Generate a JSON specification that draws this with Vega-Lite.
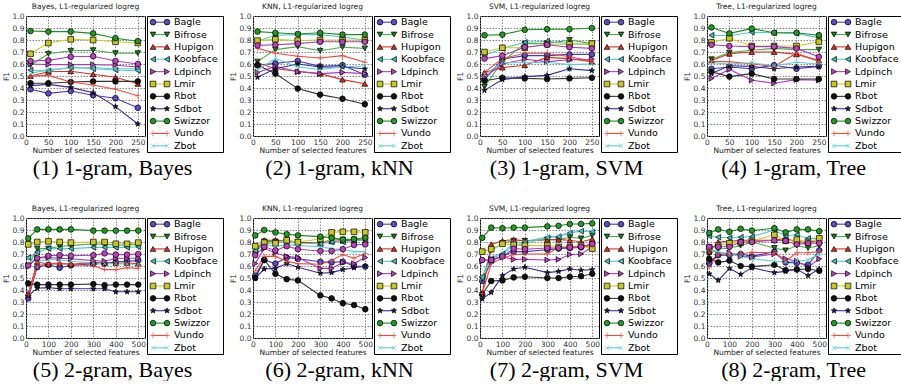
{
"$schema":"https://vega.github.io/schema/vega-lite/v6.json",
"padding":{"left":1,"top":2,"right":0,"bottom":0},
"config":{
 "view":{"stroke":"#000","strokeWidth":1},
 "font":"DejaVu Sans",
 "title":{"font":"DejaVu Sans","fontSize":7.5,"fontWeight":"normal","color":"#222","offset":2},
 "axis":{"labelFont":"DejaVu Sans","labelFontSize":7.5,"labelColor":"#333","titleFont":"DejaVu Sans","titleFontSize":7.5,"titleFontWeight":"normal","titleColor":"#222","gridColor":"#777","gridDash":[1.5,1.5],"gridOpacity":0.9,"domain":false,"ticks":false,"labelPadding":2,"labelFlush":false,"titlePadding":1}
},
"datasets":{
"leg":[{"s":"Bagle"},{"s":"Bifrose"},{"s":"Hupigon"},{"s":"Koobface"},{"s":"Ldpinch"},{"s":"Lmir"},{"s":"Rbot"},{"s":"Sdbot"},{"s":"Swizzor"},{"s":"Vundo"},{"s":"Zbot"}],
"f":[
{"p":1,"s":"Bagle","x":10,"y":0.39},{"p":1,"s":"Bagle","x":50,"y":0.355},{"p":1,"s":"Bagle","x":100,"y":0.375},{"p":1,"s":"Bagle","x":150,"y":0.34},{"p":1,"s":"Bagle","x":200,"y":0.315},{"p":1,"s":"Bagle","x":250,"y":0.235},
{"p":1,"s":"Bifrose","x":10,"y":0.59},{"p":1,"s":"Bifrose","x":50,"y":0.685},{"p":1,"s":"Bifrose","x":100,"y":0.71},{"p":1,"s":"Bifrose","x":150,"y":0.715},{"p":1,"s":"Bifrose","x":200,"y":0.69},{"p":1,"s":"Bifrose","x":250,"y":0.69},
{"p":1,"s":"Hupigon","x":10,"y":0.5},{"p":1,"s":"Hupigon","x":50,"y":0.535},{"p":1,"s":"Hupigon","x":100,"y":0.54},{"p":1,"s":"Hupigon","x":150,"y":0.515},{"p":1,"s":"Hupigon","x":200,"y":0.49},{"p":1,"s":"Hupigon","x":250,"y":0.435},
{"p":1,"s":"Koobface","x":10,"y":0.55},{"p":1,"s":"Koobface","x":50,"y":0.54},{"p":1,"s":"Koobface","x":100,"y":0.575},{"p":1,"s":"Koobface","x":150,"y":0.56},{"p":1,"s":"Koobface","x":200,"y":0.55},{"p":1,"s":"Koobface","x":250,"y":0.545},
{"p":1,"s":"Ldpinch","x":10,"y":0.6},{"p":1,"s":"Ldpinch","x":50,"y":0.595},{"p":1,"s":"Ldpinch","x":100,"y":0.595},{"p":1,"s":"Ldpinch","x":150,"y":0.595},{"p":1,"s":"Ldpinch","x":200,"y":0.59},{"p":1,"s":"Ldpinch","x":250,"y":0.575},
{"p":1,"s":"Lmir","x":10,"y":0.685},{"p":1,"s":"Lmir","x":50,"y":0.775},{"p":1,"s":"Lmir","x":100,"y":0.805},{"p":1,"s":"Lmir","x":150,"y":0.8},{"p":1,"s":"Lmir","x":200,"y":0.785},{"p":1,"s":"Lmir","x":250,"y":0.775},
{"p":1,"s":"Rbot","x":10,"y":0.44},{"p":1,"s":"Rbot","x":50,"y":0.44},{"p":1,"s":"Rbot","x":100,"y":0.45},{"p":1,"s":"Rbot","x":150,"y":0.455},{"p":1,"s":"Rbot","x":200,"y":0.455},{"p":1,"s":"Rbot","x":250,"y":0.455},
{"p":1,"s":"Sdbot","x":10,"y":0.42},{"p":1,"s":"Sdbot","x":50,"y":0.43},{"p":1,"s":"Sdbot","x":100,"y":0.405},{"p":1,"s":"Sdbot","x":150,"y":0.36},{"p":1,"s":"Sdbot","x":200,"y":0.245},{"p":1,"s":"Sdbot","x":250,"y":0.1},
{"p":1,"s":"Swizzor","x":10,"y":0.875},{"p":1,"s":"Swizzor","x":50,"y":0.87},{"p":1,"s":"Swizzor","x":100,"y":0.87},{"p":1,"s":"Swizzor","x":150,"y":0.855},{"p":1,"s":"Swizzor","x":200,"y":0.815},{"p":1,"s":"Swizzor","x":250,"y":0.79},
{"p":1,"s":"Vundo","x":10,"y":0.5},{"p":1,"s":"Vundo","x":50,"y":0.505},{"p":1,"s":"Vundo","x":100,"y":0.45},{"p":1,"s":"Vundo","x":150,"y":0.425},{"p":1,"s":"Vundo","x":200,"y":0.39},{"p":1,"s":"Vundo","x":250,"y":0.335},
{"p":1,"s":"Zbot","x":10,"y":0.52},{"p":1,"s":"Zbot","x":50,"y":0.555},{"p":1,"s":"Zbot","x":100,"y":0.565},{"p":1,"s":"Zbot","x":150,"y":0.57},{"p":1,"s":"Zbot","x":200,"y":0.56},{"p":1,"s":"Zbot","x":250,"y":0.56},
{"p":1,"s":"Other","x":10,"y":0.625},{"p":1,"s":"Other","x":50,"y":0.63},{"p":1,"s":"Other","x":100,"y":0.66},{"p":1,"s":"Other","x":150,"y":0.665},{"p":1,"s":"Other","x":200,"y":0.625},{"p":1,"s":"Other","x":250,"y":0.6},
{"p":2,"s":"Bagle","x":10,"y":0.59},{"p":2,"s":"Bagle","x":50,"y":0.605},{"p":2,"s":"Bagle","x":100,"y":0.625},{"p":2,"s":"Bagle","x":150,"y":0.58},{"p":2,"s":"Bagle","x":200,"y":0.59},{"p":2,"s":"Bagle","x":250,"y":0.51},
{"p":2,"s":"Bifrose","x":10,"y":0.62},{"p":2,"s":"Bifrose","x":50,"y":0.72},{"p":2,"s":"Bifrose","x":100,"y":0.745},{"p":2,"s":"Bifrose","x":150,"y":0.71},{"p":2,"s":"Bifrose","x":200,"y":0.74},{"p":2,"s":"Bifrose","x":250,"y":0.73},
{"p":2,"s":"Hupigon","x":10,"y":0.61},{"p":2,"s":"Hupigon","x":50,"y":0.56},{"p":2,"s":"Hupigon","x":100,"y":0.54},{"p":2,"s":"Hupigon","x":150,"y":0.52},{"p":2,"s":"Hupigon","x":200,"y":0.47},{"p":2,"s":"Hupigon","x":250,"y":0.435},
{"p":2,"s":"Koobface","x":10,"y":0.79},{"p":2,"s":"Koobface","x":50,"y":0.84},{"p":2,"s":"Koobface","x":100,"y":0.845},{"p":2,"s":"Koobface","x":150,"y":0.845},{"p":2,"s":"Koobface","x":200,"y":0.825},{"p":2,"s":"Koobface","x":250,"y":0.8},
{"p":2,"s":"Ldpinch","x":10,"y":0.53},{"p":2,"s":"Ldpinch","x":50,"y":0.58},{"p":2,"s":"Ldpinch","x":100,"y":0.535},{"p":2,"s":"Ldpinch","x":150,"y":0.52},{"p":2,"s":"Ldpinch","x":200,"y":0.53},{"p":2,"s":"Ldpinch","x":250,"y":0.52},
{"p":2,"s":"Lmir","x":10,"y":0.795},{"p":2,"s":"Lmir","x":50,"y":0.805},{"p":2,"s":"Lmir","x":100,"y":0.795},{"p":2,"s":"Lmir","x":150,"y":0.8},{"p":2,"s":"Lmir","x":200,"y":0.8},{"p":2,"s":"Lmir","x":250,"y":0.8},
{"p":2,"s":"Rbot","x":10,"y":0.59},{"p":2,"s":"Rbot","x":50,"y":0.52},{"p":2,"s":"Rbot","x":100,"y":0.395},{"p":2,"s":"Rbot","x":150,"y":0.345},{"p":2,"s":"Rbot","x":200,"y":0.31},{"p":2,"s":"Rbot","x":250,"y":0.265},
{"p":2,"s":"Sdbot","x":10,"y":0.49},{"p":2,"s":"Sdbot","x":50,"y":0.56},{"p":2,"s":"Sdbot","x":100,"y":0.6},{"p":2,"s":"Sdbot","x":150,"y":0.575},{"p":2,"s":"Sdbot","x":200,"y":0.575},{"p":2,"s":"Sdbot","x":250,"y":0.56},
{"p":2,"s":"Swizzor","x":10,"y":0.87},{"p":2,"s":"Swizzor","x":50,"y":0.86},{"p":2,"s":"Swizzor","x":100,"y":0.85},{"p":2,"s":"Swizzor","x":150,"y":0.86},{"p":2,"s":"Swizzor","x":200,"y":0.845},{"p":2,"s":"Swizzor","x":250,"y":0.845},
{"p":2,"s":"Vundo","x":10,"y":0.73},{"p":2,"s":"Vundo","x":50,"y":0.69},{"p":2,"s":"Vundo","x":100,"y":0.665},{"p":2,"s":"Vundo","x":150,"y":0.65},{"p":2,"s":"Vundo","x":200,"y":0.67},{"p":2,"s":"Vundo","x":250,"y":0.615},
{"p":2,"s":"Zbot","x":10,"y":0.55},{"p":2,"s":"Zbot","x":50,"y":0.645},{"p":2,"s":"Zbot","x":100,"y":0.575},{"p":2,"s":"Zbot","x":150,"y":0.555},{"p":2,"s":"Zbot","x":200,"y":0.575},{"p":2,"s":"Zbot","x":250,"y":0.585},
{"p":2,"s":"Other","x":10,"y":0.755},{"p":2,"s":"Other","x":50,"y":0.76},{"p":2,"s":"Other","x":100,"y":0.77},{"p":2,"s":"Other","x":150,"y":0.785},{"p":2,"s":"Other","x":200,"y":0.785},{"p":2,"s":"Other","x":250,"y":0.785},
{"p":3,"s":"Bagle","x":10,"y":0.47},{"p":3,"s":"Bagle","x":50,"y":0.64},{"p":3,"s":"Bagle","x":100,"y":0.67},{"p":3,"s":"Bagle","x":150,"y":0.67},{"p":3,"s":"Bagle","x":200,"y":0.68},{"p":3,"s":"Bagle","x":250,"y":0.68},
{"p":3,"s":"Bifrose","x":10,"y":0.41},{"p":3,"s":"Bifrose","x":50,"y":0.62},{"p":3,"s":"Bifrose","x":100,"y":0.77},{"p":3,"s":"Bifrose","x":150,"y":0.77},{"p":3,"s":"Bifrose","x":200,"y":0.8},{"p":3,"s":"Bifrose","x":250,"y":0.77},
{"p":3,"s":"Hupigon","x":10,"y":0.53},{"p":3,"s":"Hupigon","x":50,"y":0.57},{"p":3,"s":"Hupigon","x":100,"y":0.59},{"p":3,"s":"Hupigon","x":150,"y":0.655},{"p":3,"s":"Hupigon","x":200,"y":0.645},{"p":3,"s":"Hupigon","x":250,"y":0.62},
{"p":3,"s":"Koobface","x":10,"y":0.67},{"p":3,"s":"Koobface","x":50,"y":0.73},{"p":3,"s":"Koobface","x":100,"y":0.78},{"p":3,"s":"Koobface","x":150,"y":0.79},{"p":3,"s":"Koobface","x":200,"y":0.77},{"p":3,"s":"Koobface","x":250,"y":0.76},
{"p":3,"s":"Ldpinch","x":10,"y":0.49},{"p":3,"s":"Ldpinch","x":50,"y":0.6},{"p":3,"s":"Ldpinch","x":100,"y":0.64},{"p":3,"s":"Ldpinch","x":150,"y":0.62},{"p":3,"s":"Ldpinch","x":200,"y":0.635},{"p":3,"s":"Ldpinch","x":250,"y":0.64},
{"p":3,"s":"Lmir","x":10,"y":0.7},{"p":3,"s":"Lmir","x":50,"y":0.735},{"p":3,"s":"Lmir","x":100,"y":0.735},{"p":3,"s":"Lmir","x":150,"y":0.765},{"p":3,"s":"Lmir","x":200,"y":0.765},{"p":3,"s":"Lmir","x":250,"y":0.77},
{"p":3,"s":"Rbot","x":10,"y":0.46},{"p":3,"s":"Rbot","x":50,"y":0.485},{"p":3,"s":"Rbot","x":100,"y":0.48},{"p":3,"s":"Rbot","x":150,"y":0.475},{"p":3,"s":"Rbot","x":200,"y":0.48},{"p":3,"s":"Rbot","x":250,"y":0.485},
{"p":3,"s":"Sdbot","x":10,"y":0.38},{"p":3,"s":"Sdbot","x":50,"y":0.47},{"p":3,"s":"Sdbot","x":100,"y":0.495},{"p":3,"s":"Sdbot","x":150,"y":0.505},{"p":3,"s":"Sdbot","x":200,"y":0.56},{"p":3,"s":"Sdbot","x":250,"y":0.545},
{"p":3,"s":"Swizzor","x":10,"y":0.84},{"p":3,"s":"Swizzor","x":50,"y":0.845},{"p":3,"s":"Swizzor","x":100,"y":0.885},{"p":3,"s":"Swizzor","x":150,"y":0.89},{"p":3,"s":"Swizzor","x":200,"y":0.89},{"p":3,"s":"Swizzor","x":250,"y":0.9},
{"p":3,"s":"Vundo","x":10,"y":0.53},{"p":3,"s":"Vundo","x":50,"y":0.645},{"p":3,"s":"Vundo","x":100,"y":0.69},{"p":3,"s":"Vundo","x":150,"y":0.69},{"p":3,"s":"Vundo","x":200,"y":0.66},{"p":3,"s":"Vundo","x":250,"y":0.625},
{"p":3,"s":"Zbot","x":10,"y":0.51},{"p":3,"s":"Zbot","x":50,"y":0.61},{"p":3,"s":"Zbot","x":100,"y":0.61},{"p":3,"s":"Zbot","x":150,"y":0.615},{"p":3,"s":"Zbot","x":200,"y":0.595},{"p":3,"s":"Zbot","x":250,"y":0.6},
{"p":3,"s":"Other","x":10,"y":0.645},{"p":3,"s":"Other","x":50,"y":0.67},{"p":3,"s":"Other","x":100,"y":0.74},{"p":3,"s":"Other","x":150,"y":0.76},{"p":3,"s":"Other","x":200,"y":0.74},{"p":3,"s":"Other","x":250,"y":0.73},
{"p":4,"s":"Bagle","x":10,"y":0.56},{"p":4,"s":"Bagle","x":50,"y":0.575},{"p":4,"s":"Bagle","x":100,"y":0.56},{"p":4,"s":"Bagle","x":150,"y":0.59},{"p":4,"s":"Bagle","x":200,"y":0.56},{"p":4,"s":"Bagle","x":250,"y":0.58},
{"p":4,"s":"Bifrose","x":10,"y":0.64},{"p":4,"s":"Bifrose","x":50,"y":0.695},{"p":4,"s":"Bifrose","x":100,"y":0.715},{"p":4,"s":"Bifrose","x":150,"y":0.73},{"p":4,"s":"Bifrose","x":200,"y":0.72},{"p":4,"s":"Bifrose","x":250,"y":0.72},
{"p":4,"s":"Hupigon","x":10,"y":0.63},{"p":4,"s":"Hupigon","x":50,"y":0.685},{"p":4,"s":"Hupigon","x":100,"y":0.7},{"p":4,"s":"Hupigon","x":150,"y":0.7},{"p":4,"s":"Hupigon","x":200,"y":0.68},{"p":4,"s":"Hupigon","x":250,"y":0.63},
{"p":4,"s":"Koobface","x":10,"y":0.84},{"p":4,"s":"Koobface","x":50,"y":0.835},{"p":4,"s":"Koobface","x":100,"y":0.865},{"p":4,"s":"Koobface","x":150,"y":0.86},{"p":4,"s":"Koobface","x":200,"y":0.855},{"p":4,"s":"Koobface","x":250,"y":0.82},
{"p":4,"s":"Ldpinch","x":10,"y":0.48},{"p":4,"s":"Ldpinch","x":50,"y":0.555},{"p":4,"s":"Ldpinch","x":100,"y":0.465},{"p":4,"s":"Ldpinch","x":150,"y":0.44},{"p":4,"s":"Ldpinch","x":200,"y":0.47},{"p":4,"s":"Ldpinch","x":250,"y":0.465},
{"p":4,"s":"Lmir","x":10,"y":0.78},{"p":4,"s":"Lmir","x":50,"y":0.815},{"p":4,"s":"Lmir","x":100,"y":0.75},{"p":4,"s":"Lmir","x":150,"y":0.75},{"p":4,"s":"Lmir","x":200,"y":0.75},{"p":4,"s":"Lmir","x":250,"y":0.785},
{"p":4,"s":"Rbot","x":10,"y":0.535},{"p":4,"s":"Rbot","x":50,"y":0.495},{"p":4,"s":"Rbot","x":100,"y":0.52},{"p":4,"s":"Rbot","x":150,"y":0.475},{"p":4,"s":"Rbot","x":200,"y":0.475},{"p":4,"s":"Rbot","x":250,"y":0.475},
{"p":4,"s":"Sdbot","x":10,"y":0.52},{"p":4,"s":"Sdbot","x":50,"y":0.585},{"p":4,"s":"Sdbot","x":100,"y":0.58},{"p":4,"s":"Sdbot","x":150,"y":0.56},{"p":4,"s":"Sdbot","x":200,"y":0.575},{"p":4,"s":"Sdbot","x":250,"y":0.58},
{"p":4,"s":"Swizzor","x":10,"y":0.905},{"p":4,"s":"Swizzor","x":50,"y":0.855},{"p":4,"s":"Swizzor","x":100,"y":0.895},{"p":4,"s":"Swizzor","x":150,"y":0.86},{"p":4,"s":"Swizzor","x":200,"y":0.86},{"p":4,"s":"Swizzor","x":250,"y":0.84},
{"p":4,"s":"Vundo","x":10,"y":0.62},{"p":4,"s":"Vundo","x":50,"y":0.62},{"p":4,"s":"Vundo","x":100,"y":0.6},{"p":4,"s":"Vundo","x":150,"y":0.58},{"p":4,"s":"Vundo","x":200,"y":0.69},{"p":4,"s":"Vundo","x":250,"y":0.62},
{"p":4,"s":"Zbot","x":10,"y":0.61},{"p":4,"s":"Zbot","x":50,"y":0.6},{"p":4,"s":"Zbot","x":100,"y":0.61},{"p":4,"s":"Zbot","x":150,"y":0.585},{"p":4,"s":"Zbot","x":200,"y":0.615},{"p":4,"s":"Zbot","x":250,"y":0.6},
{"p":4,"s":"Other","x":10,"y":0.76},{"p":4,"s":"Other","x":50,"y":0.75},{"p":4,"s":"Other","x":100,"y":0.745},{"p":4,"s":"Other","x":150,"y":0.745},{"p":4,"s":"Other","x":200,"y":0.73},{"p":4,"s":"Other","x":250,"y":0.66},
{"p":5,"s":"Bagle","x":10,"y":0.33},{"p":5,"s":"Bagle","x":50,"y":0.59},{"p":5,"s":"Bagle","x":100,"y":0.61},{"p":5,"s":"Bagle","x":150,"y":0.585},{"p":5,"s":"Bagle","x":200,"y":0.605},{"p":5,"s":"Bagle","x":300,"y":0.62},{"p":5,"s":"Bagle","x":350,"y":0.62},{"p":5,"s":"Bagle","x":400,"y":0.635},{"p":5,"s":"Bagle","x":450,"y":0.64},{"p":5,"s":"Bagle","x":500,"y":0.645},
{"p":5,"s":"Bifrose","x":10,"y":0.6},{"p":5,"s":"Bifrose","x":50,"y":0.745},{"p":5,"s":"Bifrose","x":100,"y":0.745},{"p":5,"s":"Bifrose","x":150,"y":0.765},{"p":5,"s":"Bifrose","x":200,"y":0.77},{"p":5,"s":"Bifrose","x":300,"y":0.785},{"p":5,"s":"Bifrose","x":350,"y":0.78},{"p":5,"s":"Bifrose","x":400,"y":0.775},{"p":5,"s":"Bifrose","x":450,"y":0.775},{"p":5,"s":"Bifrose","x":500,"y":0.78},
{"p":5,"s":"Hupigon","x":10,"y":0.37},{"p":5,"s":"Hupigon","x":50,"y":0.635},{"p":5,"s":"Hupigon","x":100,"y":0.615},{"p":5,"s":"Hupigon","x":150,"y":0.62},{"p":5,"s":"Hupigon","x":200,"y":0.615},{"p":5,"s":"Hupigon","x":300,"y":0.63},{"p":5,"s":"Hupigon","x":350,"y":0.625},{"p":5,"s":"Hupigon","x":400,"y":0.625},{"p":5,"s":"Hupigon","x":450,"y":0.625},{"p":5,"s":"Hupigon","x":500,"y":0.62},
{"p":5,"s":"Koobface","x":10,"y":0.67},{"p":5,"s":"Koobface","x":50,"y":0.715},{"p":5,"s":"Koobface","x":100,"y":0.745},{"p":5,"s":"Koobface","x":150,"y":0.745},{"p":5,"s":"Koobface","x":200,"y":0.745},{"p":5,"s":"Koobface","x":300,"y":0.755},{"p":5,"s":"Koobface","x":350,"y":0.755},{"p":5,"s":"Koobface","x":400,"y":0.755},{"p":5,"s":"Koobface","x":450,"y":0.755},{"p":5,"s":"Koobface","x":500,"y":0.76},
{"p":5,"s":"Ldpinch","x":10,"y":0.6},{"p":5,"s":"Ldpinch","x":50,"y":0.67},{"p":5,"s":"Ldpinch","x":100,"y":0.67},{"p":5,"s":"Ldpinch","x":150,"y":0.665},{"p":5,"s":"Ldpinch","x":200,"y":0.66},{"p":5,"s":"Ldpinch","x":300,"y":0.645},{"p":5,"s":"Ldpinch","x":350,"y":0.64},{"p":5,"s":"Ldpinch","x":400,"y":0.665},{"p":5,"s":"Ldpinch","x":450,"y":0.665},{"p":5,"s":"Ldpinch","x":500,"y":0.665},
{"p":5,"s":"Lmir","x":10,"y":0.78},{"p":5,"s":"Lmir","x":50,"y":0.8},{"p":5,"s":"Lmir","x":100,"y":0.805},{"p":5,"s":"Lmir","x":150,"y":0.8},{"p":5,"s":"Lmir","x":200,"y":0.795},{"p":5,"s":"Lmir","x":300,"y":0.8},{"p":5,"s":"Lmir","x":350,"y":0.8},{"p":5,"s":"Lmir","x":400,"y":0.785},{"p":5,"s":"Lmir","x":450,"y":0.785},{"p":5,"s":"Lmir","x":500,"y":0.795},
{"p":5,"s":"Rbot","x":10,"y":0.455},{"p":5,"s":"Rbot","x":50,"y":0.445},{"p":5,"s":"Rbot","x":100,"y":0.445},{"p":5,"s":"Rbot","x":150,"y":0.445},{"p":5,"s":"Rbot","x":200,"y":0.445},{"p":5,"s":"Rbot","x":300,"y":0.45},{"p":5,"s":"Rbot","x":350,"y":0.44},{"p":5,"s":"Rbot","x":400,"y":0.445},{"p":5,"s":"Rbot","x":450,"y":0.445},{"p":5,"s":"Rbot","x":500,"y":0.445},
{"p":5,"s":"Sdbot","x":10,"y":0.35},{"p":5,"s":"Sdbot","x":50,"y":0.415},{"p":5,"s":"Sdbot","x":100,"y":0.42},{"p":5,"s":"Sdbot","x":150,"y":0.41},{"p":5,"s":"Sdbot","x":200,"y":0.41},{"p":5,"s":"Sdbot","x":300,"y":0.41},{"p":5,"s":"Sdbot","x":350,"y":0.41},{"p":5,"s":"Sdbot","x":400,"y":0.385},{"p":5,"s":"Sdbot","x":450,"y":0.385},{"p":5,"s":"Sdbot","x":500,"y":0.385},
{"p":5,"s":"Swizzor","x":10,"y":0.83},{"p":5,"s":"Swizzor","x":50,"y":0.905},{"p":5,"s":"Swizzor","x":100,"y":0.905},{"p":5,"s":"Swizzor","x":150,"y":0.905},{"p":5,"s":"Swizzor","x":200,"y":0.905},{"p":5,"s":"Swizzor","x":300,"y":0.895},{"p":5,"s":"Swizzor","x":350,"y":0.895},{"p":5,"s":"Swizzor","x":400,"y":0.895},{"p":5,"s":"Swizzor","x":450,"y":0.895},{"p":5,"s":"Swizzor","x":500,"y":0.895},
{"p":5,"s":"Vundo","x":10,"y":0.36},{"p":5,"s":"Vundo","x":50,"y":0.6},{"p":5,"s":"Vundo","x":100,"y":0.62},{"p":5,"s":"Vundo","x":150,"y":0.625},{"p":5,"s":"Vundo","x":200,"y":0.615},{"p":5,"s":"Vundo","x":300,"y":0.6},{"p":5,"s":"Vundo","x":350,"y":0.57},{"p":5,"s":"Vundo","x":400,"y":0.57},{"p":5,"s":"Vundo","x":450,"y":0.585},{"p":5,"s":"Vundo","x":500,"y":0.58},
{"p":5,"s":"Zbot","x":10,"y":0.66},{"p":5,"s":"Zbot","x":50,"y":0.64},{"p":5,"s":"Zbot","x":100,"y":0.655},{"p":5,"s":"Zbot","x":150,"y":0.65},{"p":5,"s":"Zbot","x":200,"y":0.64},{"p":5,"s":"Zbot","x":300,"y":0.625},{"p":5,"s":"Zbot","x":350,"y":0.62},{"p":5,"s":"Zbot","x":400,"y":0.62},{"p":5,"s":"Zbot","x":450,"y":0.615},{"p":5,"s":"Zbot","x":500,"y":0.615},
{"p":5,"s":"Other","x":10,"y":0.605},{"p":5,"s":"Other","x":50,"y":0.665},{"p":5,"s":"Other","x":100,"y":0.685},{"p":5,"s":"Other","x":150,"y":0.69},{"p":5,"s":"Other","x":200,"y":0.685},{"p":5,"s":"Other","x":300,"y":0.69},{"p":5,"s":"Other","x":350,"y":0.705},{"p":5,"s":"Other","x":400,"y":0.695},{"p":5,"s":"Other","x":450,"y":0.695},{"p":5,"s":"Other","x":500,"y":0.7},
{"p":6,"s":"Bagle","x":10,"y":0.52},{"p":6,"s":"Bagle","x":50,"y":0.65},{"p":6,"s":"Bagle","x":100,"y":0.62},{"p":6,"s":"Bagle","x":150,"y":0.67},{"p":6,"s":"Bagle","x":200,"y":0.66},{"p":6,"s":"Bagle","x":300,"y":0.635},{"p":6,"s":"Bagle","x":350,"y":0.63},{"p":6,"s":"Bagle","x":400,"y":0.635},{"p":6,"s":"Bagle","x":450,"y":0.6},{"p":6,"s":"Bagle","x":500,"y":0.595},
{"p":6,"s":"Bifrose","x":10,"y":0.7},{"p":6,"s":"Bifrose","x":50,"y":0.805},{"p":6,"s":"Bifrose","x":100,"y":0.805},{"p":6,"s":"Bifrose","x":150,"y":0.8},{"p":6,"s":"Bifrose","x":200,"y":0.8},{"p":6,"s":"Bifrose","x":300,"y":0.785},{"p":6,"s":"Bifrose","x":350,"y":0.825},{"p":6,"s":"Bifrose","x":400,"y":0.82},{"p":6,"s":"Bifrose","x":450,"y":0.82},{"p":6,"s":"Bifrose","x":500,"y":0.825},
{"p":6,"s":"Hupigon","x":10,"y":0.72},{"p":6,"s":"Hupigon","x":50,"y":0.815},{"p":6,"s":"Hupigon","x":100,"y":0.815},{"p":6,"s":"Hupigon","x":150,"y":0.81},{"p":6,"s":"Hupigon","x":200,"y":0.8},{"p":6,"s":"Hupigon","x":300,"y":0.79},{"p":6,"s":"Hupigon","x":350,"y":0.805},{"p":6,"s":"Hupigon","x":400,"y":0.81},{"p":6,"s":"Hupigon","x":450,"y":0.815},{"p":6,"s":"Hupigon","x":500,"y":0.815},
{"p":6,"s":"Koobface","x":10,"y":0.73},{"p":6,"s":"Koobface","x":50,"y":0.78},{"p":6,"s":"Koobface","x":100,"y":0.8},{"p":6,"s":"Koobface","x":150,"y":0.815},{"p":6,"s":"Koobface","x":200,"y":0.79},{"p":6,"s":"Koobface","x":300,"y":0.785},{"p":6,"s":"Koobface","x":350,"y":0.8},{"p":6,"s":"Koobface","x":400,"y":0.8},{"p":6,"s":"Koobface","x":450,"y":0.81},{"p":6,"s":"Koobface","x":500,"y":0.815},
{"p":6,"s":"Ldpinch","x":10,"y":0.62},{"p":6,"s":"Ldpinch","x":50,"y":0.745},{"p":6,"s":"Ldpinch","x":100,"y":0.71},{"p":6,"s":"Ldpinch","x":150,"y":0.68},{"p":6,"s":"Ldpinch","x":200,"y":0.67},{"p":6,"s":"Ldpinch","x":300,"y":0.58},{"p":6,"s":"Ldpinch","x":350,"y":0.58},{"p":6,"s":"Ldpinch","x":400,"y":0.63},{"p":6,"s":"Ldpinch","x":450,"y":0.62},{"p":6,"s":"Ldpinch","x":500,"y":0.67},
{"p":6,"s":"Lmir","x":10,"y":0.765},{"p":6,"s":"Lmir","x":50,"y":0.795},{"p":6,"s":"Lmir","x":100,"y":0.79},{"p":6,"s":"Lmir","x":150,"y":0.815},{"p":6,"s":"Lmir","x":200,"y":0.8},{"p":6,"s":"Lmir","x":300,"y":0.825},{"p":6,"s":"Lmir","x":350,"y":0.88},{"p":6,"s":"Lmir","x":400,"y":0.885},{"p":6,"s":"Lmir","x":450,"y":0.885},{"p":6,"s":"Lmir","x":500,"y":0.88},
{"p":6,"s":"Rbot","x":10,"y":0.5},{"p":6,"s":"Rbot","x":50,"y":0.65},{"p":6,"s":"Rbot","x":100,"y":0.535},{"p":6,"s":"Rbot","x":150,"y":0.49},{"p":6,"s":"Rbot","x":200,"y":0.48},{"p":6,"s":"Rbot","x":300,"y":0.355},{"p":6,"s":"Rbot","x":350,"y":0.33},{"p":6,"s":"Rbot","x":400,"y":0.29},{"p":6,"s":"Rbot","x":450,"y":0.275},{"p":6,"s":"Rbot","x":500,"y":0.24},
{"p":6,"s":"Sdbot","x":10,"y":0.5},{"p":6,"s":"Sdbot","x":50,"y":0.575},{"p":6,"s":"Sdbot","x":100,"y":0.58},{"p":6,"s":"Sdbot","x":150,"y":0.62},{"p":6,"s":"Sdbot","x":200,"y":0.59},{"p":6,"s":"Sdbot","x":300,"y":0.54},{"p":6,"s":"Sdbot","x":350,"y":0.545},{"p":6,"s":"Sdbot","x":400,"y":0.57},{"p":6,"s":"Sdbot","x":450,"y":0.585},{"p":6,"s":"Sdbot","x":500,"y":0.6},
{"p":6,"s":"Swizzor","x":10,"y":0.855},{"p":6,"s":"Swizzor","x":50,"y":0.9},{"p":6,"s":"Swizzor","x":100,"y":0.88},{"p":6,"s":"Swizzor","x":150,"y":0.865},{"p":6,"s":"Swizzor","x":200,"y":0.855},{"p":6,"s":"Swizzor","x":300,"y":0.845},{"p":6,"s":"Swizzor","x":350,"y":0.835},{"p":6,"s":"Swizzor","x":400,"y":0.82},{"p":6,"s":"Swizzor","x":450,"y":0.825},{"p":6,"s":"Swizzor","x":500,"y":0.835},
{"p":6,"s":"Vundo","x":10,"y":0.56},{"p":6,"s":"Vundo","x":50,"y":0.68},{"p":6,"s":"Vundo","x":100,"y":0.68},{"p":6,"s":"Vundo","x":150,"y":0.64},{"p":6,"s":"Vundo","x":200,"y":0.62},{"p":6,"s":"Vundo","x":300,"y":0.615},{"p":6,"s":"Vundo","x":350,"y":0.645},{"p":6,"s":"Vundo","x":400,"y":0.695},{"p":6,"s":"Vundo","x":450,"y":0.665},{"p":6,"s":"Vundo","x":500,"y":0.705},
{"p":6,"s":"Zbot","x":10,"y":0.72},{"p":6,"s":"Zbot","x":50,"y":0.78},{"p":6,"s":"Zbot","x":100,"y":0.76},{"p":6,"s":"Zbot","x":150,"y":0.78},{"p":6,"s":"Zbot","x":200,"y":0.77},{"p":6,"s":"Zbot","x":300,"y":0.76},{"p":6,"s":"Zbot","x":350,"y":0.745},{"p":6,"s":"Zbot","x":400,"y":0.735},{"p":6,"s":"Zbot","x":450,"y":0.72},{"p":6,"s":"Zbot","x":500,"y":0.72},
{"p":6,"s":"Other","x":10,"y":0.69},{"p":6,"s":"Other","x":50,"y":0.76},{"p":6,"s":"Other","x":100,"y":0.73},{"p":6,"s":"Other","x":150,"y":0.765},{"p":6,"s":"Other","x":200,"y":0.74},{"p":6,"s":"Other","x":300,"y":0.725},{"p":6,"s":"Other","x":350,"y":0.725},{"p":6,"s":"Other","x":400,"y":0.74},{"p":6,"s":"Other","x":450,"y":0.775},{"p":6,"s":"Other","x":500,"y":0.78},
{"p":7,"s":"Bagle","x":10,"y":0.475},{"p":7,"s":"Bagle","x":50,"y":0.64},{"p":7,"s":"Bagle","x":100,"y":0.685},{"p":7,"s":"Bagle","x":150,"y":0.72},{"p":7,"s":"Bagle","x":200,"y":0.72},{"p":7,"s":"Bagle","x":300,"y":0.735},{"p":7,"s":"Bagle","x":350,"y":0.745},{"p":7,"s":"Bagle","x":400,"y":0.75},{"p":7,"s":"Bagle","x":450,"y":0.755},{"p":7,"s":"Bagle","x":500,"y":0.785},
{"p":7,"s":"Bifrose","x":10,"y":0.49},{"p":7,"s":"Bifrose","x":50,"y":0.73},{"p":7,"s":"Bifrose","x":100,"y":0.79},{"p":7,"s":"Bifrose","x":150,"y":0.81},{"p":7,"s":"Bifrose","x":200,"y":0.81},{"p":7,"s":"Bifrose","x":300,"y":0.82},{"p":7,"s":"Bifrose","x":350,"y":0.82},{"p":7,"s":"Bifrose","x":400,"y":0.84},{"p":7,"s":"Bifrose","x":450,"y":0.83},{"p":7,"s":"Bifrose","x":500,"y":0.855},
{"p":7,"s":"Hupigon","x":10,"y":0.37},{"p":7,"s":"Hupigon","x":50,"y":0.78},{"p":7,"s":"Hupigon","x":100,"y":0.81},{"p":7,"s":"Hupigon","x":150,"y":0.82},{"p":7,"s":"Hupigon","x":200,"y":0.81},{"p":7,"s":"Hupigon","x":300,"y":0.82},{"p":7,"s":"Hupigon","x":350,"y":0.82},{"p":7,"s":"Hupigon","x":400,"y":0.815},{"p":7,"s":"Hupigon","x":450,"y":0.8},{"p":7,"s":"Hupigon","x":500,"y":0.825},
{"p":7,"s":"Koobface","x":10,"y":0.51},{"p":7,"s":"Koobface","x":50,"y":0.66},{"p":7,"s":"Koobface","x":100,"y":0.7},{"p":7,"s":"Koobface","x":150,"y":0.77},{"p":7,"s":"Koobface","x":200,"y":0.79},{"p":7,"s":"Koobface","x":300,"y":0.835},{"p":7,"s":"Koobface","x":350,"y":0.845},{"p":7,"s":"Koobface","x":400,"y":0.875},{"p":7,"s":"Koobface","x":450,"y":0.89},{"p":7,"s":"Koobface","x":500,"y":0.885},
{"p":7,"s":"Ldpinch","x":10,"y":0.64},{"p":7,"s":"Ldpinch","x":50,"y":0.66},{"p":7,"s":"Ldpinch","x":100,"y":0.675},{"p":7,"s":"Ldpinch","x":150,"y":0.655},{"p":7,"s":"Ldpinch","x":200,"y":0.655},{"p":7,"s":"Ldpinch","x":300,"y":0.65},{"p":7,"s":"Ldpinch","x":350,"y":0.655},{"p":7,"s":"Ldpinch","x":400,"y":0.695},{"p":7,"s":"Ldpinch","x":450,"y":0.7},{"p":7,"s":"Ldpinch","x":500,"y":0.76},
{"p":7,"s":"Lmir","x":10,"y":0.72},{"p":7,"s":"Lmir","x":50,"y":0.74},{"p":7,"s":"Lmir","x":100,"y":0.785},{"p":7,"s":"Lmir","x":150,"y":0.775},{"p":7,"s":"Lmir","x":200,"y":0.77},{"p":7,"s":"Lmir","x":300,"y":0.77},{"p":7,"s":"Lmir","x":350,"y":0.76},{"p":7,"s":"Lmir","x":400,"y":0.76},{"p":7,"s":"Lmir","x":450,"y":0.77},{"p":7,"s":"Lmir","x":500,"y":0.745},
{"p":7,"s":"Rbot","x":10,"y":0.365},{"p":7,"s":"Rbot","x":50,"y":0.475},{"p":7,"s":"Rbot","x":100,"y":0.48},{"p":7,"s":"Rbot","x":150,"y":0.505},{"p":7,"s":"Rbot","x":200,"y":0.51},{"p":7,"s":"Rbot","x":300,"y":0.5},{"p":7,"s":"Rbot","x":350,"y":0.5},{"p":7,"s":"Rbot","x":400,"y":0.51},{"p":7,"s":"Rbot","x":450,"y":0.515},{"p":7,"s":"Rbot","x":500,"y":0.535},
{"p":7,"s":"Sdbot","x":10,"y":0.325},{"p":7,"s":"Sdbot","x":50,"y":0.38},{"p":7,"s":"Sdbot","x":100,"y":0.52},{"p":7,"s":"Sdbot","x":150,"y":0.575},{"p":7,"s":"Sdbot","x":200,"y":0.59},{"p":7,"s":"Sdbot","x":300,"y":0.545},{"p":7,"s":"Sdbot","x":350,"y":0.555},{"p":7,"s":"Sdbot","x":400,"y":0.575},{"p":7,"s":"Sdbot","x":450,"y":0.565},{"p":7,"s":"Sdbot","x":500,"y":0.57},
{"p":7,"s":"Swizzor","x":10,"y":0.835},{"p":7,"s":"Swizzor","x":50,"y":0.92},{"p":7,"s":"Swizzor","x":100,"y":0.915},{"p":7,"s":"Swizzor","x":150,"y":0.92},{"p":7,"s":"Swizzor","x":200,"y":0.92},{"p":7,"s":"Swizzor","x":300,"y":0.93},{"p":7,"s":"Swizzor","x":350,"y":0.935},{"p":7,"s":"Swizzor","x":400,"y":0.95},{"p":7,"s":"Swizzor","x":450,"y":0.95},{"p":7,"s":"Swizzor","x":500,"y":0.955},
{"p":7,"s":"Vundo","x":10,"y":0.37},{"p":7,"s":"Vundo","x":50,"y":0.62},{"p":7,"s":"Vundo","x":100,"y":0.665},{"p":7,"s":"Vundo","x":150,"y":0.695},{"p":7,"s":"Vundo","x":200,"y":0.7},{"p":7,"s":"Vundo","x":300,"y":0.7},{"p":7,"s":"Vundo","x":350,"y":0.755},{"p":7,"s":"Vundo","x":400,"y":0.755},{"p":7,"s":"Vundo","x":450,"y":0.76},{"p":7,"s":"Vundo","x":500,"y":0.77},
{"p":7,"s":"Zbot","x":10,"y":0.5},{"p":7,"s":"Zbot","x":50,"y":0.67},{"p":7,"s":"Zbot","x":100,"y":0.71},{"p":7,"s":"Zbot","x":150,"y":0.79},{"p":7,"s":"Zbot","x":200,"y":0.8},{"p":7,"s":"Zbot","x":300,"y":0.845},{"p":7,"s":"Zbot","x":350,"y":0.85},{"p":7,"s":"Zbot","x":400,"y":0.88},{"p":7,"s":"Zbot","x":450,"y":0.89},{"p":7,"s":"Zbot","x":500,"y":0.89},
{"p":7,"s":"Other","x":10,"y":0.65},{"p":7,"s":"Other","x":50,"y":0.65},{"p":7,"s":"Other","x":100,"y":0.68},{"p":7,"s":"Other","x":150,"y":0.745},{"p":7,"s":"Other","x":200,"y":0.74},{"p":7,"s":"Other","x":300,"y":0.75},{"p":7,"s":"Other","x":350,"y":0.75},{"p":7,"s":"Other","x":400,"y":0.755},{"p":7,"s":"Other","x":450,"y":0.76},{"p":7,"s":"Other","x":500,"y":0.785},
{"p":8,"s":"Bagle","x":10,"y":0.62},{"p":8,"s":"Bagle","x":50,"y":0.69},{"p":8,"s":"Bagle","x":100,"y":0.69},{"p":8,"s":"Bagle","x":150,"y":0.7},{"p":8,"s":"Bagle","x":200,"y":0.68},{"p":8,"s":"Bagle","x":300,"y":0.72},{"p":8,"s":"Bagle","x":350,"y":0.63},{"p":8,"s":"Bagle","x":400,"y":0.625},{"p":8,"s":"Bagle","x":450,"y":0.61},{"p":8,"s":"Bagle","x":500,"y":0.73},
{"p":8,"s":"Bifrose","x":10,"y":0.7},{"p":8,"s":"Bifrose","x":50,"y":0.74},{"p":8,"s":"Bifrose","x":100,"y":0.75},{"p":8,"s":"Bifrose","x":150,"y":0.77},{"p":8,"s":"Bifrose","x":200,"y":0.8},{"p":8,"s":"Bifrose","x":300,"y":0.75},{"p":8,"s":"Bifrose","x":350,"y":0.73},{"p":8,"s":"Bifrose","x":400,"y":0.77},{"p":8,"s":"Bifrose","x":450,"y":0.75},{"p":8,"s":"Bifrose","x":500,"y":0.77},
{"p":8,"s":"Hupigon","x":10,"y":0.72},{"p":8,"s":"Hupigon","x":50,"y":0.8},{"p":8,"s":"Hupigon","x":100,"y":0.805},{"p":8,"s":"Hupigon","x":150,"y":0.815},{"p":8,"s":"Hupigon","x":200,"y":0.815},{"p":8,"s":"Hupigon","x":300,"y":0.815},{"p":8,"s":"Hupigon","x":350,"y":0.83},{"p":8,"s":"Hupigon","x":400,"y":0.8},{"p":8,"s":"Hupigon","x":450,"y":0.8},{"p":8,"s":"Hupigon","x":500,"y":0.81},
{"p":8,"s":"Koobface","x":10,"y":0.85},{"p":8,"s":"Koobface","x":50,"y":0.84},{"p":8,"s":"Koobface","x":100,"y":0.835},{"p":8,"s":"Koobface","x":150,"y":0.84},{"p":8,"s":"Koobface","x":200,"y":0.845},{"p":8,"s":"Koobface","x":300,"y":0.9},{"p":8,"s":"Koobface","x":350,"y":0.85},{"p":8,"s":"Koobface","x":400,"y":0.86},{"p":8,"s":"Koobface","x":450,"y":0.83},{"p":8,"s":"Koobface","x":500,"y":0.83},
{"p":8,"s":"Ldpinch","x":10,"y":0.64},{"p":8,"s":"Ldpinch","x":50,"y":0.69},{"p":8,"s":"Ldpinch","x":100,"y":0.71},{"p":8,"s":"Ldpinch","x":150,"y":0.68},{"p":8,"s":"Ldpinch","x":200,"y":0.675},{"p":8,"s":"Ldpinch","x":300,"y":0.7},{"p":8,"s":"Ldpinch","x":350,"y":0.66},{"p":8,"s":"Ldpinch","x":400,"y":0.64},{"p":8,"s":"Ldpinch","x":450,"y":0.59},{"p":8,"s":"Ldpinch","x":500,"y":0.66},
{"p":8,"s":"Lmir","x":10,"y":0.755},{"p":8,"s":"Lmir","x":50,"y":0.77},{"p":8,"s":"Lmir","x":100,"y":0.79},{"p":8,"s":"Lmir","x":150,"y":0.795},{"p":8,"s":"Lmir","x":200,"y":0.81},{"p":8,"s":"Lmir","x":300,"y":0.86},{"p":8,"s":"Lmir","x":350,"y":0.81},{"p":8,"s":"Lmir","x":400,"y":0.82},{"p":8,"s":"Lmir","x":450,"y":0.8},{"p":8,"s":"Lmir","x":500,"y":0.83},
{"p":8,"s":"Rbot","x":10,"y":0.66},{"p":8,"s":"Rbot","x":50,"y":0.63},{"p":8,"s":"Rbot","x":100,"y":0.645},{"p":8,"s":"Rbot","x":150,"y":0.6},{"p":8,"s":"Rbot","x":200,"y":0.595},{"p":8,"s":"Rbot","x":300,"y":0.61},{"p":8,"s":"Rbot","x":350,"y":0.565},{"p":8,"s":"Rbot","x":400,"y":0.57},{"p":8,"s":"Rbot","x":450,"y":0.575},{"p":8,"s":"Rbot","x":500,"y":0.56},
{"p":8,"s":"Sdbot","x":10,"y":0.535},{"p":8,"s":"Sdbot","x":50,"y":0.48},{"p":8,"s":"Sdbot","x":100,"y":0.58},{"p":8,"s":"Sdbot","x":150,"y":0.53},{"p":8,"s":"Sdbot","x":200,"y":0.585},{"p":8,"s":"Sdbot","x":300,"y":0.545},{"p":8,"s":"Sdbot","x":350,"y":0.555},{"p":8,"s":"Sdbot","x":400,"y":0.575},{"p":8,"s":"Sdbot","x":450,"y":0.52},{"p":8,"s":"Sdbot","x":500,"y":0.575},
{"p":8,"s":"Swizzor","x":10,"y":0.875},{"p":8,"s":"Swizzor","x":50,"y":0.905},{"p":8,"s":"Swizzor","x":100,"y":0.885},{"p":8,"s":"Swizzor","x":150,"y":0.91},{"p":8,"s":"Swizzor","x":200,"y":0.895},{"p":8,"s":"Swizzor","x":300,"y":0.915},{"p":8,"s":"Swizzor","x":350,"y":0.88},{"p":8,"s":"Swizzor","x":400,"y":0.905},{"p":8,"s":"Swizzor","x":450,"y":0.905},{"p":8,"s":"Swizzor","x":500,"y":0.89},
{"p":8,"s":"Vundo","x":10,"y":0.59},{"p":8,"s":"Vundo","x":50,"y":0.7},{"p":8,"s":"Vundo","x":100,"y":0.7},{"p":8,"s":"Vundo","x":150,"y":0.7},{"p":8,"s":"Vundo","x":200,"y":0.715},{"p":8,"s":"Vundo","x":300,"y":0.71},{"p":8,"s":"Vundo","x":350,"y":0.64},{"p":8,"s":"Vundo","x":400,"y":0.71},{"p":8,"s":"Vundo","x":450,"y":0.71},{"p":8,"s":"Vundo","x":500,"y":0.72},
{"p":8,"s":"Zbot","x":10,"y":0.74},{"p":8,"s":"Zbot","x":50,"y":0.72},{"p":8,"s":"Zbot","x":100,"y":0.7},{"p":8,"s":"Zbot","x":150,"y":0.68},{"p":8,"s":"Zbot","x":200,"y":0.66},{"p":8,"s":"Zbot","x":300,"y":0.64},{"p":8,"s":"Zbot","x":350,"y":0.635},{"p":8,"s":"Zbot","x":400,"y":0.64},{"p":8,"s":"Zbot","x":450,"y":0.65},{"p":8,"s":"Zbot","x":500,"y":0.7},
{"p":8,"s":"Other","x":10,"y":0.76},{"p":8,"s":"Other","x":50,"y":0.76},{"p":8,"s":"Other","x":100,"y":0.76},{"p":8,"s":"Other","x":150,"y":0.8},{"p":8,"s":"Other","x":200,"y":0.8},{"p":8,"s":"Other","x":300,"y":0.815},{"p":8,"s":"Other","x":350,"y":0.81},{"p":8,"s":"Other","x":400,"y":0.78},{"p":8,"s":"Other","x":450,"y":0.79},{"p":8,"s":"Other","x":500,"y":0.79}
]},
"spacing":25,
"vconcat":[
{"spacing":4,"hconcat":[
{"title":{"text":"(1) 1-gram, Bayes","orient":"bottom","font":"Liberation Serif","fontSize":22,"fontWeight":"normal","offset":3,"anchor":"middle","color":"#000"},"bounds":"flush","spacing":2,"hconcat":[
 {"width":119,"height":120,"title":{"text":"Bayes, L1-regularized logreg"},"data":{"name":"f"},"transform":[{"filter":"datum.p==1"}],
  "encoding":{"x":{"field":"x","type":"quantitative","scale":{"domain":[0,266],"nice":false,"zero":false},"axis":{"values":[0,50,100,150,200,250],"title":"Number of selected features"}},
   "y":{"field":"y","type":"quantitative","scale":{"domain":[0,1],"nice":false},"axis":{"values":[0,0.1,0.2,0.3,0.4,0.5,0.6,0.7,0.8,0.9,1],"format":".1f","title":"F1","titlePadding":2}}},
  "layer":[
   {"mark":{"type":"line","strokeWidth":1.1},"encoding":{"color":{"field":"s","type":"nominal","scale":{"domain":["Bagle","Bifrose","Hupigon","Koobface","Ldpinch","Lmir","Rbot","Sdbot","Swizzor","Vundo","Zbot","Other"],"range":["#4b3cb0","#4cae4c","#d83222","#55c8c8","#b03cc0","#cccc2e","#333333","#3a2aa0","#1f8f1f","#f04a3a","#5ad0d0","#b03cc0"]},"legend":null}}},
   {"mark":{"type":"point","filled":true,"size":32,"strokeWidth":0.7,"opacity":1},"encoding":{
     "shape":{"field":"s","type":"nominal","scale":{"domain":["Bagle","Bifrose","Hupigon","Koobface","Ldpinch","Lmir","Rbot","Sdbot","Swizzor","Vundo","Zbot","Other"],"range":["circle","triangle-down","triangle-up","triangle-left","triangle-right","square","circle","M0,-1L0.235,-0.324L0.951,-0.309L0.38,0.124L0.588,0.809L0,0.4L-0.588,0.809L-0.38,0.124L-0.951,-0.309L-0.235,-0.324Z","circle","M-1,0L1,0M0,-1L0,1","M-0.8,-0.8L0.8,0.8M-0.8,0.8L0.8,-0.8","circle"]},"legend":null},
     "fill":{"field":"s","type":"nominal","scale":{"domain":["Bagle","Bifrose","Hupigon","Koobface","Ldpinch","Lmir","Rbot","Sdbot","Swizzor","Vundo","Zbot","Other"],"range":["#5a4bc6","#1e7b1e","#e03020","#3fbfbf","#bf3fbf","#c8c820","#111111","#1a1a48","#229922","#f04a3a","#5ad0d0","#bf3fbf"]},"legend":null},
     "stroke":{"field":"s","type":"nominal","scale":{"domain":["Bagle","Bifrose","Hupigon","Koobface","Ldpinch","Lmir","Rbot","Sdbot","Swizzor","Vundo","Zbot","Other"],"range":["#000","#000","#000","#000","#000","#000","#000","#000","#000","#f04a3a","#5ad0d0","#000"]},"legend":null}}}
  ]},
 {"width":76,"height":136,"data":{"name":"leg"},
  "encoding":{"y":{"field":"s","type":"nominal","scale":{"type":"point","domain":["Bagle","Bifrose","Hupigon","Koobface","Ldpinch","Lmir","Rbot","Sdbot","Swizzor","Vundo","Zbot"],"padding":0.5},"axis":null}},
  "layer":[
   {"mark":{"type":"rule","strokeWidth":1.1},"encoding":{"x":{"datum":6,"type":"quantitative","scale":{"domain":[0,76],"nice":false,"zero":false},"axis":null},"x2":{"datum":20},"color":{"field":"s","type":"nominal","legend":null}}},
   {"mark":{"type":"point","filled":true,"size":32,"strokeWidth":0.7,"opacity":1},"encoding":{"x":{"datum":6,"type":"quantitative"},"shape":{"field":"s","type":"nominal","legend":null},"fill":{"field":"s","type":"nominal","legend":null},"stroke":{"field":"s","type":"nominal","legend":null}}},
   {"mark":{"type":"point","filled":true,"size":32,"strokeWidth":0.7,"opacity":1},"encoding":{"x":{"datum":20,"type":"quantitative"},"shape":{"field":"s","type":"nominal","legend":null},"fill":{"field":"s","type":"nominal","legend":null},"stroke":{"field":"s","type":"nominal","legend":null}}},
   {"mark":{"type":"text","align":"left","baseline":"middle","fontSize":9.5,"font":"DejaVu Sans","color":"#000"},"encoding":{"x":{"datum":27,"type":"quantitative"},"text":{"field":"s"}}}
  ]}
]},
{"title":{"text":"(2) 1-gram, kNN","orient":"bottom","font":"Liberation Serif","fontSize":22,"fontWeight":"normal","offset":3,"anchor":"middle","color":"#000"},"bounds":"flush","spacing":2,"hconcat":[
 {"width":119,"height":120,"title":{"text":"KNN, L1-regularized logreg"},"data":{"name":"f"},"transform":[{"filter":"datum.p==2"}],
  "encoding":{"x":{"field":"x","type":"quantitative","scale":{"domain":[0,266],"nice":false,"zero":false},"axis":{"values":[0,50,100,150,200,250],"title":"Number of selected features"}},
   "y":{"field":"y","type":"quantitative","scale":{"domain":[0,1],"nice":false},"axis":{"values":[0,0.1,0.2,0.3,0.4,0.5,0.6,0.7,0.8,0.9,1],"format":".1f","title":"F1","titlePadding":2}}},
  "layer":[
   {"mark":{"type":"line","strokeWidth":1.1},"encoding":{"color":{"field":"s","type":"nominal","legend":null}}},
   {"mark":{"type":"point","filled":true,"size":32,"strokeWidth":0.7,"opacity":1},"encoding":{"shape":{"field":"s","type":"nominal","legend":null},"fill":{"field":"s","type":"nominal","legend":null},"stroke":{"field":"s","type":"nominal","legend":null}}}
  ]},
 {"width":76,"height":136,"data":{"name":"leg"},
  "encoding":{"y":{"field":"s","type":"nominal","scale":{"type":"point","domain":["Bagle","Bifrose","Hupigon","Koobface","Ldpinch","Lmir","Rbot","Sdbot","Swizzor","Vundo","Zbot"],"padding":0.5},"axis":null}},
  "layer":[
   {"mark":{"type":"rule","strokeWidth":1.1},"encoding":{"x":{"datum":6,"type":"quantitative","scale":{"domain":[0,76],"nice":false,"zero":false},"axis":null},"x2":{"datum":20},"color":{"field":"s","type":"nominal","legend":null}}},
   {"mark":{"type":"point","filled":true,"size":32,"strokeWidth":0.7,"opacity":1},"encoding":{"x":{"datum":6,"type":"quantitative"},"shape":{"field":"s","type":"nominal","legend":null},"fill":{"field":"s","type":"nominal","legend":null},"stroke":{"field":"s","type":"nominal","legend":null}}},
   {"mark":{"type":"point","filled":true,"size":32,"strokeWidth":0.7,"opacity":1},"encoding":{"x":{"datum":20,"type":"quantitative"},"shape":{"field":"s","type":"nominal","legend":null},"fill":{"field":"s","type":"nominal","legend":null},"stroke":{"field":"s","type":"nominal","legend":null}}},
   {"mark":{"type":"text","align":"left","baseline":"middle","fontSize":9.5,"font":"DejaVu Sans","color":"#000"},"encoding":{"x":{"datum":27,"type":"quantitative"},"text":{"field":"s"}}}
  ]}
]},
{"title":{"text":"(3) 1-gram, SVM","orient":"bottom","font":"Liberation Serif","fontSize":22,"fontWeight":"normal","offset":3,"anchor":"middle","color":"#000"},"bounds":"flush","spacing":2,"hconcat":[
 {"width":119,"height":120,"title":{"text":"SVM, L1-regularized logreg"},"data":{"name":"f"},"transform":[{"filter":"datum.p==3"}],
  "encoding":{"x":{"field":"x","type":"quantitative","scale":{"domain":[0,266],"nice":false,"zero":false},"axis":{"values":[0,50,100,150,200,250],"title":"Number of selected features"}},
   "y":{"field":"y","type":"quantitative","scale":{"domain":[0,1],"nice":false},"axis":{"values":[0,0.1,0.2,0.3,0.4,0.5,0.6,0.7,0.8,0.9,1],"format":".1f","title":"F1","titlePadding":2}}},
  "layer":[
   {"mark":{"type":"line","strokeWidth":1.1},"encoding":{"color":{"field":"s","type":"nominal","legend":null}}},
   {"mark":{"type":"point","filled":true,"size":32,"strokeWidth":0.7,"opacity":1},"encoding":{"shape":{"field":"s","type":"nominal","legend":null},"fill":{"field":"s","type":"nominal","legend":null},"stroke":{"field":"s","type":"nominal","legend":null}}}
  ]},
 {"width":76,"height":136,"data":{"name":"leg"},
  "encoding":{"y":{"field":"s","type":"nominal","scale":{"type":"point","domain":["Bagle","Bifrose","Hupigon","Koobface","Ldpinch","Lmir","Rbot","Sdbot","Swizzor","Vundo","Zbot"],"padding":0.5},"axis":null}},
  "layer":[
   {"mark":{"type":"rule","strokeWidth":1.1},"encoding":{"x":{"datum":6,"type":"quantitative","scale":{"domain":[0,76],"nice":false,"zero":false},"axis":null},"x2":{"datum":20},"color":{"field":"s","type":"nominal","legend":null}}},
   {"mark":{"type":"point","filled":true,"size":32,"strokeWidth":0.7,"opacity":1},"encoding":{"x":{"datum":6,"type":"quantitative"},"shape":{"field":"s","type":"nominal","legend":null},"fill":{"field":"s","type":"nominal","legend":null},"stroke":{"field":"s","type":"nominal","legend":null}}},
   {"mark":{"type":"point","filled":true,"size":32,"strokeWidth":0.7,"opacity":1},"encoding":{"x":{"datum":20,"type":"quantitative"},"shape":{"field":"s","type":"nominal","legend":null},"fill":{"field":"s","type":"nominal","legend":null},"stroke":{"field":"s","type":"nominal","legend":null}}},
   {"mark":{"type":"text","align":"left","baseline":"middle","fontSize":9.5,"font":"DejaVu Sans","color":"#000"},"encoding":{"x":{"datum":27,"type":"quantitative"},"text":{"field":"s"}}}
  ]}
]},
{"title":{"text":"(4) 1-gram, Tree","orient":"bottom","font":"Liberation Serif","fontSize":22,"fontWeight":"normal","offset":3,"anchor":"middle","color":"#000"},"bounds":"flush","spacing":2,"hconcat":[
 {"width":119,"height":120,"title":{"text":"Tree, L1-regularized logreg"},"data":{"name":"f"},"transform":[{"filter":"datum.p==4"}],
  "encoding":{"x":{"field":"x","type":"quantitative","scale":{"domain":[0,266],"nice":false,"zero":false},"axis":{"values":[0,50,100,150,200,250],"title":"Number of selected features"}},
   "y":{"field":"y","type":"quantitative","scale":{"domain":[0,1],"nice":false},"axis":{"values":[0,0.1,0.2,0.3,0.4,0.5,0.6,0.7,0.8,0.9,1],"format":".1f","title":"F1","titlePadding":2}}},
  "layer":[
   {"mark":{"type":"line","strokeWidth":1.1},"encoding":{"color":{"field":"s","type":"nominal","legend":null}}},
   {"mark":{"type":"point","filled":true,"size":32,"strokeWidth":0.7,"opacity":1},"encoding":{"shape":{"field":"s","type":"nominal","legend":null},"fill":{"field":"s","type":"nominal","legend":null},"stroke":{"field":"s","type":"nominal","legend":null}}}
  ]},
 {"width":76,"height":136,"data":{"name":"leg"},
  "encoding":{"y":{"field":"s","type":"nominal","scale":{"type":"point","domain":["Bagle","Bifrose","Hupigon","Koobface","Ldpinch","Lmir","Rbot","Sdbot","Swizzor","Vundo","Zbot"],"padding":0.5},"axis":null}},
  "layer":[
   {"mark":{"type":"rule","strokeWidth":1.1},"encoding":{"x":{"datum":6,"type":"quantitative","scale":{"domain":[0,76],"nice":false,"zero":false},"axis":null},"x2":{"datum":20},"color":{"field":"s","type":"nominal","legend":null}}},
   {"mark":{"type":"point","filled":true,"size":32,"strokeWidth":0.7,"opacity":1},"encoding":{"x":{"datum":6,"type":"quantitative"},"shape":{"field":"s","type":"nominal","legend":null},"fill":{"field":"s","type":"nominal","legend":null},"stroke":{"field":"s","type":"nominal","legend":null}}},
   {"mark":{"type":"point","filled":true,"size":32,"strokeWidth":0.7,"opacity":1},"encoding":{"x":{"datum":20,"type":"quantitative"},"shape":{"field":"s","type":"nominal","legend":null},"fill":{"field":"s","type":"nominal","legend":null},"stroke":{"field":"s","type":"nominal","legend":null}}},
   {"mark":{"type":"text","align":"left","baseline":"middle","fontSize":9.5,"font":"DejaVu Sans","color":"#000"},"encoding":{"x":{"datum":27,"type":"quantitative"},"text":{"field":"s"}}}
  ]}
]}
]},
{"spacing":4,"hconcat":[
{"title":{"text":"(5) 2-gram, Bayes","orient":"bottom","font":"Liberation Serif","fontSize":22,"fontWeight":"normal","offset":3,"anchor":"middle","color":"#000"},"bounds":"flush","spacing":2,"hconcat":[
 {"width":119,"height":120,"title":{"text":"Bayes, L1-regularized logreg"},"data":{"name":"f"},"transform":[{"filter":"datum.p==5"}],
  "encoding":{"x":{"field":"x","type":"quantitative","scale":{"domain":[0,530],"nice":false,"zero":false},"axis":{"values":[0,100,200,300,400,500],"title":"Number of selected features"}},
   "y":{"field":"y","type":"quantitative","scale":{"domain":[0,1],"nice":false},"axis":{"values":[0,0.1,0.2,0.3,0.4,0.5,0.6,0.7,0.8,0.9,1],"format":".1f","title":"F1","titlePadding":2}}},
  "layer":[
   {"mark":{"type":"line","strokeWidth":1.1},"encoding":{"color":{"field":"s","type":"nominal","legend":null}}},
   {"mark":{"type":"point","filled":true,"size":32,"strokeWidth":0.7,"opacity":1},"encoding":{"shape":{"field":"s","type":"nominal","legend":null},"fill":{"field":"s","type":"nominal","legend":null},"stroke":{"field":"s","type":"nominal","legend":null}}}
  ]},
 {"width":76,"height":136,"data":{"name":"leg"},
  "encoding":{"y":{"field":"s","type":"nominal","scale":{"type":"point","domain":["Bagle","Bifrose","Hupigon","Koobface","Ldpinch","Lmir","Rbot","Sdbot","Swizzor","Vundo","Zbot"],"padding":0.5},"axis":null}},
  "layer":[
   {"mark":{"type":"rule","strokeWidth":1.1},"encoding":{"x":{"datum":6,"type":"quantitative","scale":{"domain":[0,76],"nice":false,"zero":false},"axis":null},"x2":{"datum":20},"color":{"field":"s","type":"nominal","legend":null}}},
   {"mark":{"type":"point","filled":true,"size":32,"strokeWidth":0.7,"opacity":1},"encoding":{"x":{"datum":6,"type":"quantitative"},"shape":{"field":"s","type":"nominal","legend":null},"fill":{"field":"s","type":"nominal","legend":null},"stroke":{"field":"s","type":"nominal","legend":null}}},
   {"mark":{"type":"point","filled":true,"size":32,"strokeWidth":0.7,"opacity":1},"encoding":{"x":{"datum":20,"type":"quantitative"},"shape":{"field":"s","type":"nominal","legend":null},"fill":{"field":"s","type":"nominal","legend":null},"stroke":{"field":"s","type":"nominal","legend":null}}},
   {"mark":{"type":"text","align":"left","baseline":"middle","fontSize":9.5,"font":"DejaVu Sans","color":"#000"},"encoding":{"x":{"datum":27,"type":"quantitative"},"text":{"field":"s"}}}
  ]}
]},
{"title":{"text":"(6) 2-gram, kNN","orient":"bottom","font":"Liberation Serif","fontSize":22,"fontWeight":"normal","offset":3,"anchor":"middle","color":"#000"},"bounds":"flush","spacing":2,"hconcat":[
 {"width":119,"height":120,"title":{"text":"KNN, L1-regularized logreg"},"data":{"name":"f"},"transform":[{"filter":"datum.p==6"}],
  "encoding":{"x":{"field":"x","type":"quantitative","scale":{"domain":[0,530],"nice":false,"zero":false},"axis":{"values":[0,100,200,300,400,500],"title":"Number of selected features"}},
   "y":{"field":"y","type":"quantitative","scale":{"domain":[0,1],"nice":false},"axis":{"values":[0,0.1,0.2,0.3,0.4,0.5,0.6,0.7,0.8,0.9,1],"format":".1f","title":"F1","titlePadding":2}}},
  "layer":[
   {"mark":{"type":"line","strokeWidth":1.1},"encoding":{"color":{"field":"s","type":"nominal","legend":null}}},
   {"mark":{"type":"point","filled":true,"size":32,"strokeWidth":0.7,"opacity":1},"encoding":{"shape":{"field":"s","type":"nominal","legend":null},"fill":{"field":"s","type":"nominal","legend":null},"stroke":{"field":"s","type":"nominal","legend":null}}}
  ]},
 {"width":76,"height":136,"data":{"name":"leg"},
  "encoding":{"y":{"field":"s","type":"nominal","scale":{"type":"point","domain":["Bagle","Bifrose","Hupigon","Koobface","Ldpinch","Lmir","Rbot","Sdbot","Swizzor","Vundo","Zbot"],"padding":0.5},"axis":null}},
  "layer":[
   {"mark":{"type":"rule","strokeWidth":1.1},"encoding":{"x":{"datum":6,"type":"quantitative","scale":{"domain":[0,76],"nice":false,"zero":false},"axis":null},"x2":{"datum":20},"color":{"field":"s","type":"nominal","legend":null}}},
   {"mark":{"type":"point","filled":true,"size":32,"strokeWidth":0.7,"opacity":1},"encoding":{"x":{"datum":6,"type":"quantitative"},"shape":{"field":"s","type":"nominal","legend":null},"fill":{"field":"s","type":"nominal","legend":null},"stroke":{"field":"s","type":"nominal","legend":null}}},
   {"mark":{"type":"point","filled":true,"size":32,"strokeWidth":0.7,"opacity":1},"encoding":{"x":{"datum":20,"type":"quantitative"},"shape":{"field":"s","type":"nominal","legend":null},"fill":{"field":"s","type":"nominal","legend":null},"stroke":{"field":"s","type":"nominal","legend":null}}},
   {"mark":{"type":"text","align":"left","baseline":"middle","fontSize":9.5,"font":"DejaVu Sans","color":"#000"},"encoding":{"x":{"datum":27,"type":"quantitative"},"text":{"field":"s"}}}
  ]}
]},
{"title":{"text":"(7) 2-gram, SVM","orient":"bottom","font":"Liberation Serif","fontSize":22,"fontWeight":"normal","offset":3,"anchor":"middle","color":"#000"},"bounds":"flush","spacing":2,"hconcat":[
 {"width":119,"height":120,"title":{"text":"SVM, L1-regularized logreg"},"data":{"name":"f"},"transform":[{"filter":"datum.p==7"}],
  "encoding":{"x":{"field":"x","type":"quantitative","scale":{"domain":[0,530],"nice":false,"zero":false},"axis":{"values":[0,100,200,300,400,500],"title":"Number of selected features"}},
   "y":{"field":"y","type":"quantitative","scale":{"domain":[0,1],"nice":false},"axis":{"values":[0,0.1,0.2,0.3,0.4,0.5,0.6,0.7,0.8,0.9,1],"format":".1f","title":"F1","titlePadding":2}}},
  "layer":[
   {"mark":{"type":"line","strokeWidth":1.1},"encoding":{"color":{"field":"s","type":"nominal","legend":null}}},
   {"mark":{"type":"point","filled":true,"size":32,"strokeWidth":0.7,"opacity":1},"encoding":{"shape":{"field":"s","type":"nominal","legend":null},"fill":{"field":"s","type":"nominal","legend":null},"stroke":{"field":"s","type":"nominal","legend":null}}}
  ]},
 {"width":76,"height":136,"data":{"name":"leg"},
  "encoding":{"y":{"field":"s","type":"nominal","scale":{"type":"point","domain":["Bagle","Bifrose","Hupigon","Koobface","Ldpinch","Lmir","Rbot","Sdbot","Swizzor","Vundo","Zbot"],"padding":0.5},"axis":null}},
  "layer":[
   {"mark":{"type":"rule","strokeWidth":1.1},"encoding":{"x":{"datum":6,"type":"quantitative","scale":{"domain":[0,76],"nice":false,"zero":false},"axis":null},"x2":{"datum":20},"color":{"field":"s","type":"nominal","legend":null}}},
   {"mark":{"type":"point","filled":true,"size":32,"strokeWidth":0.7,"opacity":1},"encoding":{"x":{"datum":6,"type":"quantitative"},"shape":{"field":"s","type":"nominal","legend":null},"fill":{"field":"s","type":"nominal","legend":null},"stroke":{"field":"s","type":"nominal","legend":null}}},
   {"mark":{"type":"point","filled":true,"size":32,"strokeWidth":0.7,"opacity":1},"encoding":{"x":{"datum":20,"type":"quantitative"},"shape":{"field":"s","type":"nominal","legend":null},"fill":{"field":"s","type":"nominal","legend":null},"stroke":{"field":"s","type":"nominal","legend":null}}},
   {"mark":{"type":"text","align":"left","baseline":"middle","fontSize":9.5,"font":"DejaVu Sans","color":"#000"},"encoding":{"x":{"datum":27,"type":"quantitative"},"text":{"field":"s"}}}
  ]}
]},
{"title":{"text":"(8) 2-gram, Tree","orient":"bottom","font":"Liberation Serif","fontSize":22,"fontWeight":"normal","offset":3,"anchor":"middle","color":"#000"},"bounds":"flush","spacing":2,"hconcat":[
 {"width":119,"height":120,"title":{"text":"Tree, L1-regularized logreg"},"data":{"name":"f"},"transform":[{"filter":"datum.p==8"}],
  "encoding":{"x":{"field":"x","type":"quantitative","scale":{"domain":[0,530],"nice":false,"zero":false},"axis":{"values":[0,100,200,300,400,500],"title":"Number of selected features"}},
   "y":{"field":"y","type":"quantitative","scale":{"domain":[0,1],"nice":false},"axis":{"values":[0,0.1,0.2,0.3,0.4,0.5,0.6,0.7,0.8,0.9,1],"format":".1f","title":"F1","titlePadding":2}}},
  "layer":[
   {"mark":{"type":"line","strokeWidth":1.1},"encoding":{"color":{"field":"s","type":"nominal","legend":null}}},
   {"mark":{"type":"point","filled":true,"size":32,"strokeWidth":0.7,"opacity":1},"encoding":{"shape":{"field":"s","type":"nominal","legend":null},"fill":{"field":"s","type":"nominal","legend":null},"stroke":{"field":"s","type":"nominal","legend":null}}}
  ]},
 {"width":76,"height":136,"data":{"name":"leg"},
  "encoding":{"y":{"field":"s","type":"nominal","scale":{"type":"point","domain":["Bagle","Bifrose","Hupigon","Koobface","Ldpinch","Lmir","Rbot","Sdbot","Swizzor","Vundo","Zbot"],"padding":0.5},"axis":null}},
  "layer":[
   {"mark":{"type":"rule","strokeWidth":1.1},"encoding":{"x":{"datum":6,"type":"quantitative","scale":{"domain":[0,76],"nice":false,"zero":false},"axis":null},"x2":{"datum":20},"color":{"field":"s","type":"nominal","legend":null}}},
   {"mark":{"type":"point","filled":true,"size":32,"strokeWidth":0.7,"opacity":1},"encoding":{"x":{"datum":6,"type":"quantitative"},"shape":{"field":"s","type":"nominal","legend":null},"fill":{"field":"s","type":"nominal","legend":null},"stroke":{"field":"s","type":"nominal","legend":null}}},
   {"mark":{"type":"point","filled":true,"size":32,"strokeWidth":0.7,"opacity":1},"encoding":{"x":{"datum":20,"type":"quantitative"},"shape":{"field":"s","type":"nominal","legend":null},"fill":{"field":"s","type":"nominal","legend":null},"stroke":{"field":"s","type":"nominal","legend":null}}},
   {"mark":{"type":"text","align":"left","baseline":"middle","fontSize":9.5,"font":"DejaVu Sans","color":"#000"},"encoding":{"x":{"datum":27,"type":"quantitative"},"text":{"field":"s"}}}
  ]}
]}
]}
]
}
